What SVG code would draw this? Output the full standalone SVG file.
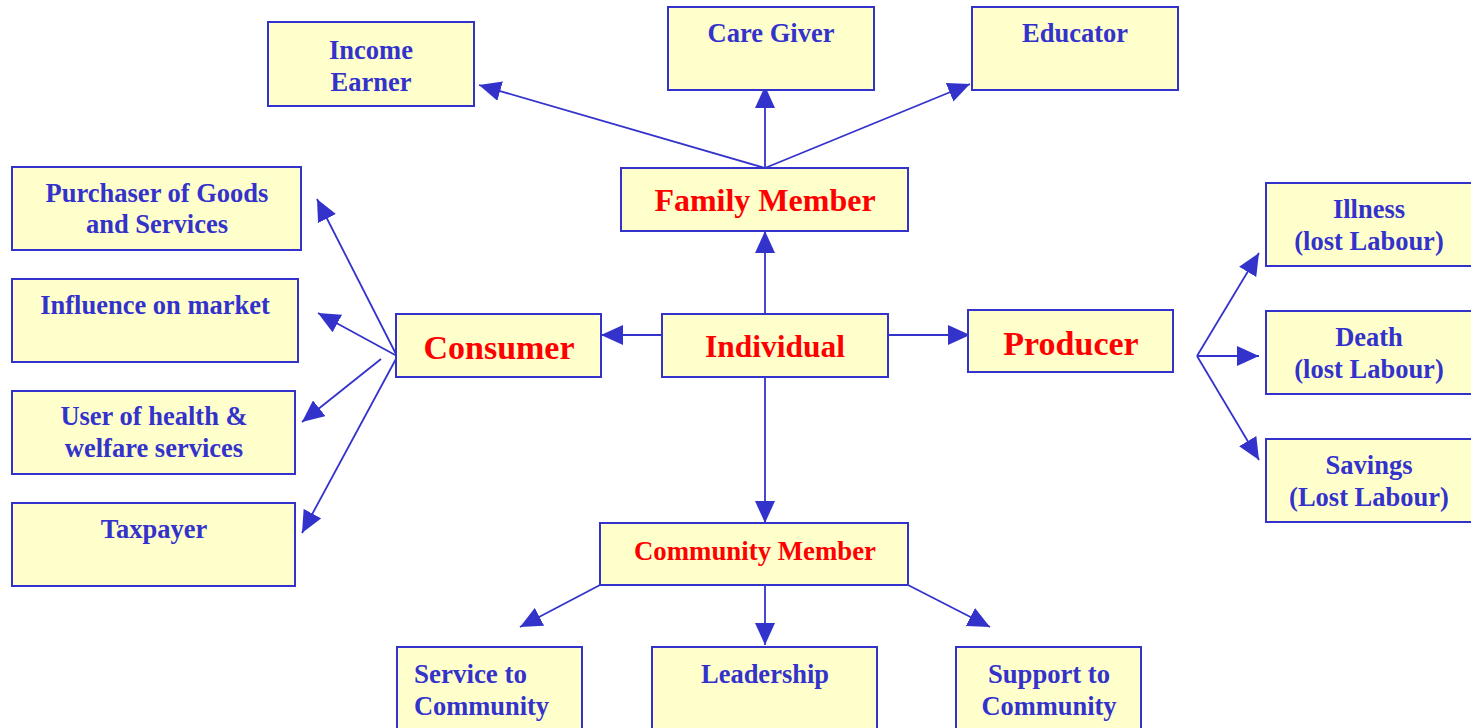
<svg xmlns="http://www.w3.org/2000/svg" width="1471" height="728" viewBox="0 0 1471 728">
<style>
.box{fill:#FFFFCC;stroke:#3333CC;stroke-width:2}
.t{font-family:"Liberation Serif","Times New Roman",serif;font-weight:bold;fill:#3333CC;font-size:26.5px;text-anchor:middle}
.r{fill:#FF0000}
.c{stroke:#3333CC;stroke-width:1.8;fill:none;marker-end:url(#ah)}
</style>
<defs>
<marker id="ah" markerUnits="userSpaceOnUse" markerWidth="22" markerHeight="20" refX="22" refY="10" orient="auto">
<path d="M0,0 L22,10 L0,20 z" fill="#3333CC"/>
</marker>
</defs>
<rect width="1471" height="728" fill="#FFFFFF"/>
<g id="connectors">
<line class="c" x1="765" y1="168" x2="479" y2="85"/>
<line class="c" x1="765" y1="168" x2="765" y2="86"/>
<line class="c" x1="765" y1="168" x2="970" y2="84"/>
<line class="c" x1="765" y1="314" x2="765" y2="231"/>
<line class="c" x1="662" y1="335" x2="601" y2="335"/>
<line class="c" x1="888" y1="335" x2="970" y2="335"/>
<line class="c" x1="765" y1="377" x2="765" y2="523"/>
<line class="c" x1="397" y1="356" x2="317" y2="199"/>
<line class="c" x1="397" y1="356" x2="318" y2="313"/>
<line class="c" x1="381" y1="359" x2="302" y2="422"/>
<line class="c" x1="397" y1="357" x2="302" y2="533"/>
<line class="c" x1="1197" y1="356" x2="1259" y2="253"/>
<line class="c" x1="1197" y1="356" x2="1259" y2="356"/>
<line class="c" x1="1197" y1="356" x2="1259" y2="460"/>
<line class="c" x1="600" y1="585" x2="520" y2="627"/>
<line class="c" x1="765" y1="582" x2="765" y2="645"/>
<line class="c" x1="908" y1="585" x2="990" y2="627"/>
</g>
<g id="income-earner"><rect class="box" x="268" y="22" width="206" height="84"/><text class="t" x="371" y="59">Income</text><text class="t" x="371" y="91">Earner</text></g>
<g id="care-giver"><rect class="box" x="668" y="7" width="206" height="83"/><text class="t" x="771" y="42">Care Giver</text></g>
<g id="educator"><rect class="box" x="972" y="7" width="206" height="83"/><text class="t" x="1075" y="42">Educator</text></g>
<g id="family-member"><rect class="box" x="621" y="168" width="287" height="63"/><text class="t r" x="765" y="211" style="font-size:32px">Family Member</text></g>
<g id="individual"><rect class="box" x="662" y="314" width="226" height="63"/><text class="t r" x="775" y="357" style="font-size:31.5px">Individual</text></g>
<g id="consumer"><rect class="box" x="396" y="314" width="205" height="63"/><text class="t r" x="499" y="359" style="font-size:34px">Consumer</text></g>
<g id="producer"><rect class="box" x="968" y="310" width="205" height="62"/><text class="t r" x="1071" y="355" style="font-size:34px">Producer</text></g>
<g id="purchaser"><rect class="box" x="12" y="167" width="289" height="83"/><text class="t" x="157" y="202">Purchaser of Goods</text><text class="t" x="157" y="233">and Services</text></g>
<g id="influence"><rect class="box" x="12" y="279" width="286" height="83"/><text class="t" x="155" y="314">Influence on market</text></g>
<g id="user-health"><rect class="box" x="12" y="391" width="283" height="83"/><text class="t" x="154" y="425">User of health &amp;</text><text class="t" x="154" y="457">welfare services</text></g>
<g id="taxpayer"><rect class="box" x="12" y="503" width="283" height="83"/><text class="t" x="154" y="538">Taxpayer</text></g>
<g id="illness"><rect class="box" x="1266" y="183" width="207" height="83"/><text class="t" x="1369" y="218">Illness</text><text class="t" x="1369" y="250">(lost Labour)</text></g>
<g id="death"><rect class="box" x="1266" y="311" width="207" height="83"/><text class="t" x="1369" y="346">Death</text><text class="t" x="1369" y="378">(lost Labour)</text></g>
<g id="savings"><rect class="box" x="1266" y="439" width="207" height="83"/><text class="t" x="1369" y="474">Savings</text><text class="t" x="1369" y="506">(Lost Labour)</text></g>
<g id="community-member"><rect class="box" x="600" y="523" width="308" height="62"/><text class="t r" x="755" y="560" style="font-size:27px" textLength="242" lengthAdjust="spacingAndGlyphs">Community Member</text></g>
<g id="service-community"><rect class="box" x="397" y="647" width="185" height="84"/><text class="t" x="414" y="683" style="text-anchor:start;font-size:27px" textLength="113" lengthAdjust="spacingAndGlyphs">Service to</text><text class="t" x="414" y="715" style="text-anchor:start;font-size:27px" textLength="135" lengthAdjust="spacingAndGlyphs">Community</text></g>
<g id="leadership"><rect class="box" x="652" y="647" width="225" height="84"/><text class="t" x="765" y="683" style="font-size:27px" textLength="128" lengthAdjust="spacingAndGlyphs">Leadership</text></g>
<g id="support-community"><rect class="box" x="956" y="647" width="185" height="84"/><text class="t" x="1049" y="683" style="font-size:27px" textLength="122" lengthAdjust="spacingAndGlyphs">Support to</text><text class="t" x="1049" y="715" style="font-size:27px" textLength="135" lengthAdjust="spacingAndGlyphs">Community</text></g>
</svg>
